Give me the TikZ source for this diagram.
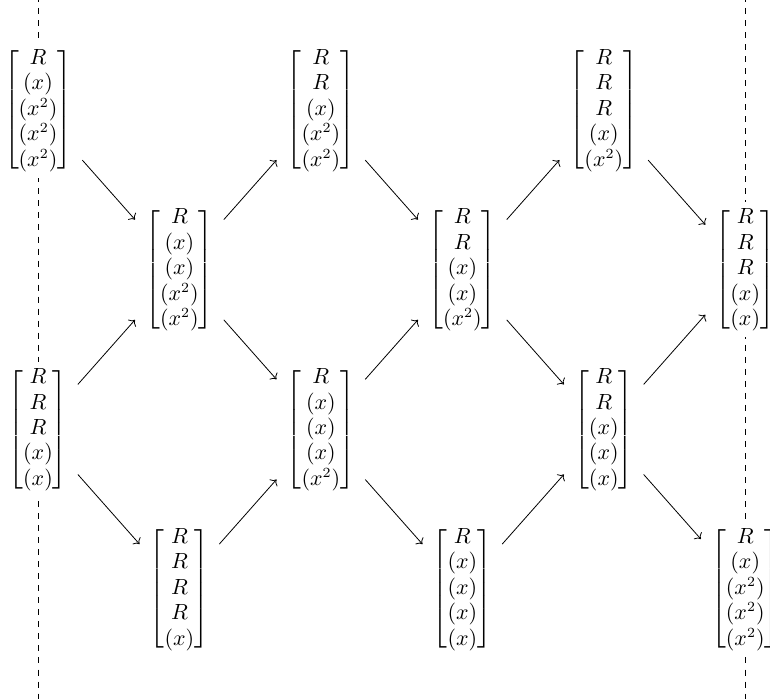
\documentclass[tikz,border=0pt]{standalone}
\usepackage{amsmath}
\usetikzlibrary{arrows.meta}

\begin{document}
\begin{tikzpicture} \tikzset{vecnode/.style={fill=white, inner xsep=5pt, inner ysep=2pt, font={\fontsize{10.6}{12.7}\selectfont}}}
\useasboundingbox (-0.666,1.929) rectangle (12.834,-10.326);
\clip (-0.666,1.929) rectangle (12.834,-10.326);
\draw [dashed] (0,2) -- (0,-10.4);
\draw [dashed] (12.4,2) -- (12.4,-10.4);
\node (a1) at (0,0) [vecnode] {$\begin{bmatrix} R\\(x)\\(x^2)\\(x^2)\\(x^2)\end{bmatrix}$};
\node (a3) at (0,-5.6) [vecnode] {$\begin{bmatrix} R\\R\\R\\(x)\\(x)\end{bmatrix}$};
\node (b2) at (2.48,-2.8) [vecnode] {$\begin{bmatrix} R\\(x)\\(x)\\(x^2)\\(x^2)\end{bmatrix}$};
\node (b4) at (2.48,-8.4) [vecnode] {$\begin{bmatrix} R\\R\\R\\R\\(x)\end{bmatrix}$};
\node (c1) at (4.96,0) [vecnode] {$\begin{bmatrix} R\\R\\(x)\\(x^2)\\(x^2)\end{bmatrix}$};
\node (c3) at (4.96,-5.6) [vecnode] {$\begin{bmatrix} R\\(x)\\(x)\\(x)\\(x^2)\end{bmatrix}$};
\node (d2) at (7.44,-2.8) [vecnode] {$\begin{bmatrix} R\\R\\(x)\\(x)\\(x^2)\end{bmatrix}$};
\node (d4) at (7.44,-8.4) [vecnode] {$\begin{bmatrix} R\\(x)\\(x)\\(x)\\(x)\end{bmatrix}$};
\node (e1) at (9.92,0) [vecnode] {$\begin{bmatrix} R\\R\\R\\(x)\\(x^2)\end{bmatrix}$};
\node (e3) at (9.92,-5.6) [vecnode] {$\begin{bmatrix} R\\R\\(x)\\(x)\\(x)\end{bmatrix}$};
\node (f2) at (12.4,-2.8) [vecnode] {$\begin{bmatrix} R\\R\\R\\(x)\\(x)\end{bmatrix}$};
\node (f4) at (12.4,-8.4) [vecnode] {$\begin{bmatrix} R\\(x)\\(x^2)\\(x^2)\\(x^2)\end{bmatrix}$};
\foreach \s/\t in {a1/b2, a3/b2, a3/b4, b2/c1, b2/c3, b4/c3, c1/d2, c3/d2, c3/d4, d2/e1, d2/e3, d4/e3, e1/f2, e3/f2, e3/f4}
\draw [->] (\s) -- (\t);
\end{tikzpicture}
\end{document}
